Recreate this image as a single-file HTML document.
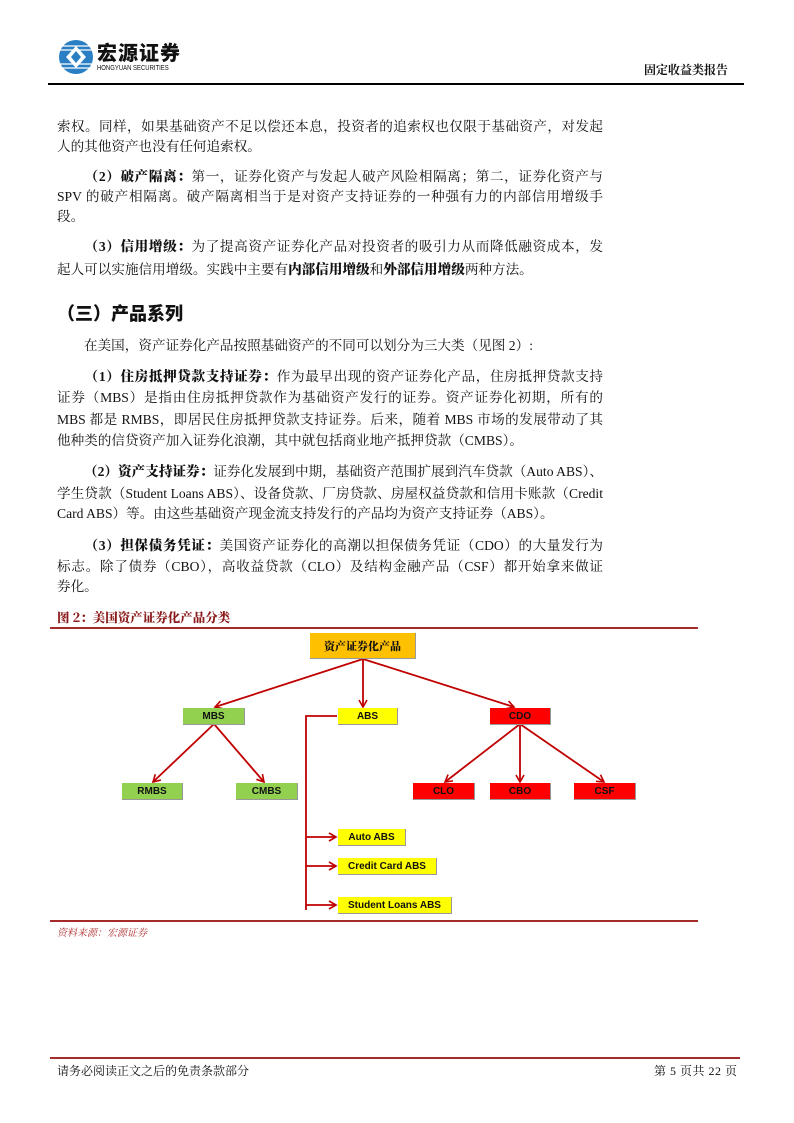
<!DOCTYPE html>
<html><head><meta charset="utf-8"><style>
body{margin:0;width:794px;height:1123px;position:relative;background:#fff;font-family:"Liberation Serif","Noto Serif CJK SC",serif;color:#111}
.l{position:absolute;left:57px;width:546px;font-size:13.6px;line-height:20px;white-space:nowrap}
.j{text-align:justify;text-align-last:justify}
.i{display:inline-block;width:27px}
b{font-family:"Liberation Serif","Noto Serif CJK SC",serif;font-weight:900}
.bx{position:absolute;font-family:"Liberation Sans","Noto Sans CJK SC",sans-serif;font-size:10px;font-weight:bold;text-align:center;box-sizing:border-box;border-bottom:1px solid #999;border-right:1px solid #999}
.g{background:#92d050}.y{background:#ffff00}.r{background:#ff0000}
</style></head><body>
<!-- header -->
<svg style="position:absolute;left:58px;top:40px" width="36" height="36" viewBox="0 0 36 36">
<circle cx="18" cy="17" r="17" fill="#2a7fc4"/>
<g stroke="#fff" stroke-width="1.2"><line x1="0" y1="6" x2="36" y2="6"/><line x1="0" y1="10" x2="36" y2="10"/><line x1="0" y1="24" x2="36" y2="24"/><line x1="0" y1="28" x2="36" y2="28"/></g>
<polygon points="18,6 28,17 18,28 8,17" fill="#fff"/><polygon points="18,11 23,17 18,23 13,17" fill="#2a7fc4"/>
</svg>
<div style="position:absolute;left:97px;top:40px;font-family:'Noto Sans CJK SC',sans-serif;font-weight:900;font-size:20px;letter-spacing:1px;line-height:24px">宏源证券</div>
<div style="position:absolute;left:97px;top:65px;font-family:'Liberation Sans',sans-serif;font-size:7px;transform:scaleX(0.85);transform-origin:left;line-height:8px">HONGYUAN SECURITIES</div>
<div style="position:absolute;left:644px;top:61px;font-size:12px;font-weight:bold;font-family:'Noto Serif CJK SC',serif">固定收益类报告</div>
<div style="position:absolute;left:48px;top:83px;width:696px;height:2px;background:#000"></div>

<div class="l j" style="top:117px">索权。同样，如果基础资产不足以偿还本息，投资者的追索权也仅限于基础资产，对发起</div>
<div class="l" style="top:137px">人的其他资产也没有任何追索权。</div>
<div class="l j" style="top:167px"><span class="i"></span><b>（2）破产隔离：</b>第一，证券化资产与发起人破产风险相隔离；第二，证券化资产与</div>
<div class="l j" style="top:187px">SPV 的破产相隔离。破产隔离相当于是对资产支持证券的一种强有力的内部信用增级手</div>
<div class="l" style="top:207px">段。</div>
<div class="l j" style="top:237px"><span class="i"></span><b>（3）信用增级：</b>为了提高资产证券化产品对投资者的吸引力从而降低融资成本，发</div>
<div class="l" style="top:260px">起人可以实施信用增级。实践中主要有<b>内部信用增级</b>和<b>外部信用增级</b>两种方法。</div>
<div class="l" style="top:300px;font-size:18px;line-height:26px;font-weight:900;font-family:'Noto Sans CJK SC',sans-serif">（三）产品系列</div>
<div class="l" style="top:336px"><span class="i"></span>在美国，资产证券化产品按照基础资产的不同可以划分为三大类（见图 2）:</div>
<div class="l j" style="top:367px"><span class="i"></span><b>（1）住房抵押贷款支持证券：</b>作为最早出现的资产证券化产品，住房抵押贷款支持</div>
<div class="l j" style="top:388px">证券（MBS）是指由住房抵押贷款作为基础资产发行的证券。资产证券化初期，所有的</div>
<div class="l j" style="top:410px">MBS 都是 RMBS，即居民住房抵押贷款支持证券。后来，随着 MBS 市场的发展带动了其</div>
<div class="l" style="top:431px">他种类的信贷资产加入证券化浪潮，其中就包括商业地产抵押贷款（CMBS）。</div>
<div class="l j" style="top:462px"><span class="i"></span><b>（2）资产支持证券：</b>证券化发展到中期，基础资产范围扩展到汽车贷款（Auto ABS）、</div>
<div class="l j" style="top:484px">学生贷款（Student Loans ABS）、设备贷款、厂房贷款、房屋权益贷款和信用卡账款（Credit</div>
<div class="l" style="top:504px">Card ABS）等。由这些基础资产现金流支持发行的产品均为资产支持证券（ABS）。</div>
<div class="l j" style="top:536px"><span class="i"></span><b>（3）担保债务凭证：</b>美国资产证券化的高潮以担保债务凭证（CDO）的大量发行为</div>
<div class="l j" style="top:557px">标志。除了债券（CBO），高收益贷款（CLO）及结构金融产品（CSF）都开始拿来做证</div>
<div class="l" style="top:577px">券化。</div>

<!-- figure -->
<div style="position:absolute;left:57px;top:608px;font-size:12.5px;font-weight:900;color:#8b1a1a;font-family:'Noto Serif CJK SC',serif">图 2：美国资产证券化产品分类</div>
<div style="position:absolute;left:50px;top:627px;width:648px;height:2px;background:#a52a2a"></div>
<div style="position:absolute;left:50px;top:920px;width:648px;height:2px;background:#a52a2a"></div>
<div style="position:absolute;left:57px;top:924px;font-size:10px;font-style:italic;color:#b03030;font-family:'Noto Serif CJK SC',serif">资料来源：宏源证券</div>

<svg style="position:absolute;left:0;top:0" width="794" height="1123">
<defs><marker id="a" markerWidth="10" markerHeight="10" refX="8" refY="5" orient="auto" markerUnits="userSpaceOnUse"><path d="M1,1 L8,5 L1,9" fill="none" stroke="#c00000" stroke-width="1.6"/></marker></defs>
<g stroke="#c00000" stroke-width="1.8" fill="none">
<line x1="363" y1="659" x2="215" y2="707" marker-end="url(#a)"/>
<line x1="363" y1="659" x2="363" y2="707" marker-end="url(#a)"/>
<line x1="363" y1="659" x2="514" y2="707" marker-end="url(#a)"/>
<line x1="214" y1="724" x2="153" y2="782" marker-end="url(#a)"/>
<line x1="214" y1="724" x2="264" y2="782" marker-end="url(#a)"/>
<line x1="520" y1="724" x2="445" y2="782" marker-end="url(#a)"/>
<line x1="520" y1="724" x2="520" y2="782" marker-end="url(#a)"/>
<line x1="520" y1="724" x2="604" y2="782" marker-end="url(#a)"/>
<polyline points="337,716 306,716 306,910"/>
<line x1="306" y1="837" x2="336" y2="837" marker-end="url(#a)"/>
<line x1="306" y1="866" x2="336" y2="866" marker-end="url(#a)"/>
<line x1="306" y1="905" x2="336" y2="905" marker-end="url(#a)"/>
</g>
</svg>
<div class="bx" style="left:310px;top:633px;width:106px;height:26px;line-height:26px;background:#ffc000;font-family:'Noto Serif CJK SC',serif;font-size:11px;font-weight:900">资产证券化产品</div>
<div class="bx g" style="left:183px;top:708px;width:62px;height:17px;line-height:17px">MBS</div>
<div class="bx y" style="left:338px;top:708px;width:60px;height:17px;line-height:17px">ABS</div>
<div class="bx r" style="left:490px;top:708px;width:61px;height:17px;line-height:17px">CDO</div>
<div class="bx g" style="left:122px;top:783px;width:61px;height:17px;line-height:17px">RMBS</div>
<div class="bx g" style="left:236px;top:783px;width:62px;height:17px;line-height:17px">CMBS</div>
<div class="bx r" style="left:413px;top:783px;width:62px;height:17px;line-height:17px">CLO</div>
<div class="bx r" style="left:490px;top:783px;width:61px;height:17px;line-height:17px">CBO</div>
<div class="bx r" style="left:574px;top:783px;width:62px;height:17px;line-height:17px">CSF</div>
<div class="bx y" style="left:338px;top:829px;width:68px;height:17px;line-height:17px">Auto ABS</div>
<div class="bx y" style="left:338px;top:858px;width:99px;height:17px;line-height:17px">Credit Card ABS</div>
<div class="bx y" style="left:338px;top:897px;width:114px;height:17px;line-height:17px">Student Loans ABS</div>

<!-- footer -->
<div style="position:absolute;left:50px;top:1057px;width:690px;height:2px;background:#a52a2a"></div>
<div style="position:absolute;left:57px;top:1062px;font-size:12px">请务必阅读正文之后的免责条款部分</div>
<div style="position:absolute;left:654px;top:1062px;font-size:12px;letter-spacing:0.5px">第 5 页共 22 页</div>
</body></html>
